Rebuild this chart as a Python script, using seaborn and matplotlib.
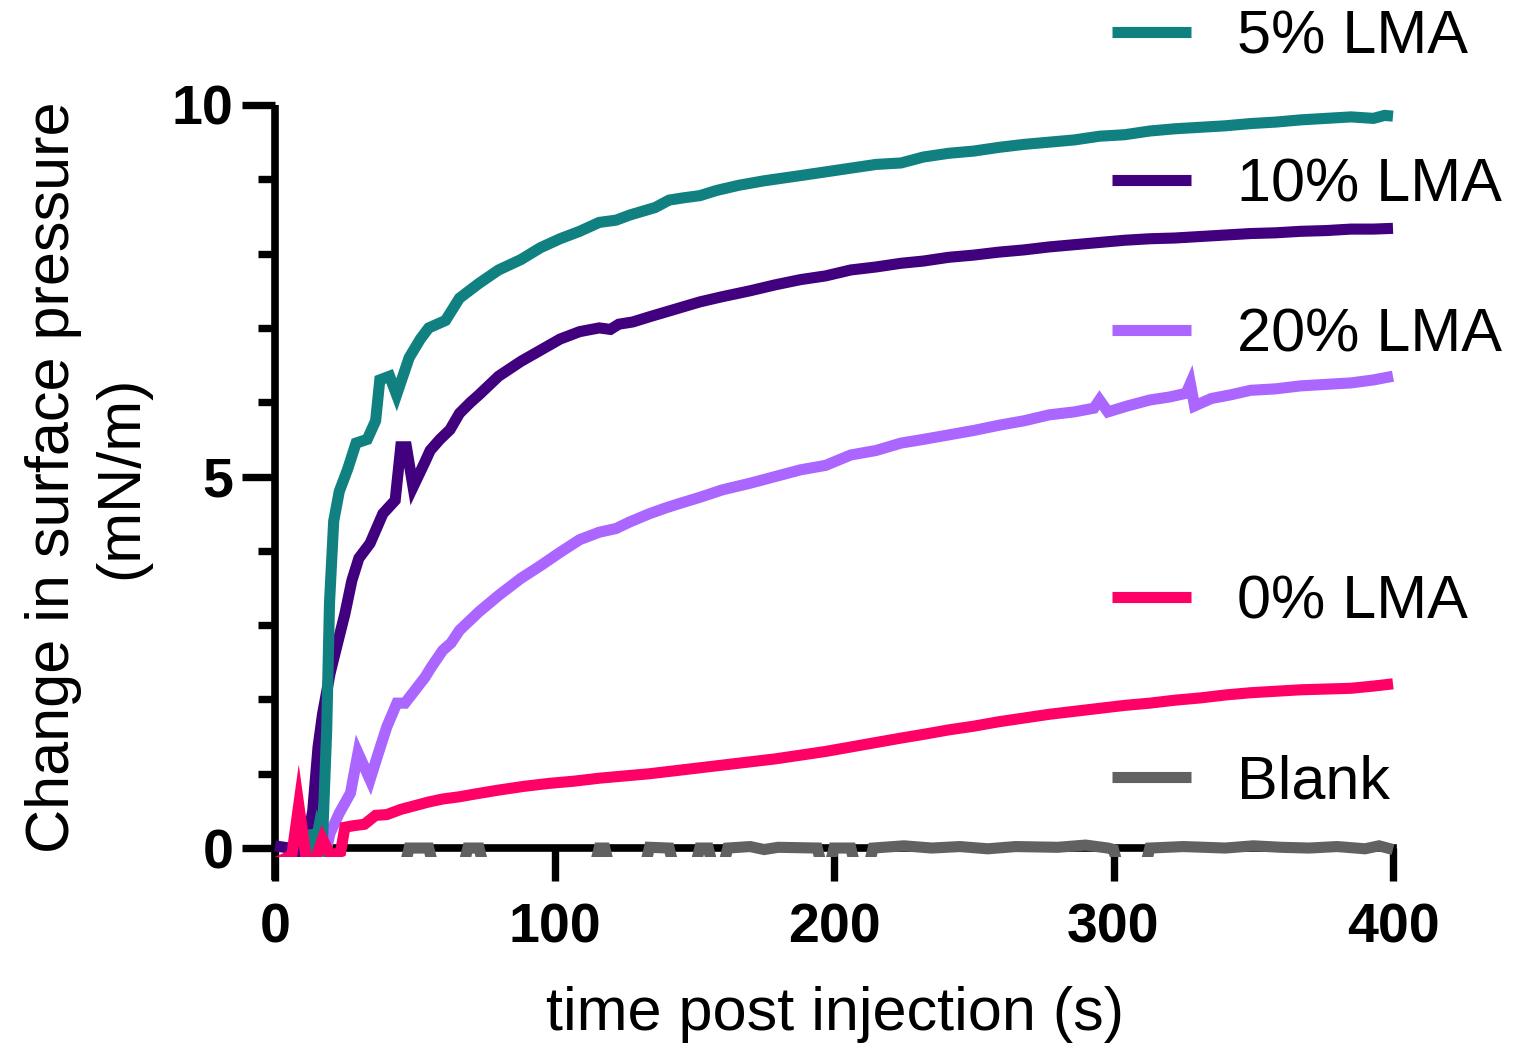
import matplotlib
matplotlib.use("Agg")
import matplotlib.pyplot as plt
import matplotlib.ticker as mticker
from matplotlib.patches import Rectangle
from matplotlib.lines import Line2D
import numpy as np
import pandas as pd
import seaborn as sns

# values (time in s, change in surface pressure in mN/m)
lma5_t = [12, 13.5, 15.5, 17, 18.5, 19.5, 21, 23, 26, 29, 33, 36, 37.5, 41, 43.5, 48, 52, 55, 61, 66,
          73, 80, 84, 88, 95, 102, 109, 116, 122, 127, 136, 141, 146, 152, 158, 166, 175, 188, 197, 206,
          215, 224, 232, 241, 250, 259, 268, 277, 286, 295, 304, 313, 322, 331, 340, 349, 358, 367, 376, 385,
          393, 397, 400]
lma5_y = [0.25, -0.15, 0.25, 0.1, 1.6, 3.3, 4.4, 4.8, 5.1, 5.45, 5.5, 5.75, 6.3, 6.35, 6.1, 6.6, 6.85, 7.0, 7.1, 7.4,
          7.6, 7.78, 7.85, 7.92, 8.08, 8.2, 8.3, 8.42, 8.45, 8.52, 8.62, 8.72, 8.75, 8.78, 8.85, 8.92, 8.98, 9.05, 9.1, 9.15,
          9.2, 9.22, 9.3, 9.35, 9.38, 9.43, 9.47, 9.5, 9.53, 9.58, 9.6, 9.65, 9.68, 9.7, 9.72, 9.75, 9.77, 9.8, 9.82, 9.84,
          9.82, 9.86, 9.85]

lma10_t = [0, 5, 8, 11, 12.5, 13.5, 15.4, 17, 19.7, 22, 25, 27.5, 30, 34, 38.6, 43, 45, 47, 49.4, 53.7,
           55.5, 59, 62.6, 66, 70, 73, 80, 88, 95, 102, 109, 116, 120, 123, 128, 134, 143, 152, 160, 170,
           179, 188, 197, 206, 215, 224, 232, 241, 250, 259, 268, 277, 286, 295, 304, 313, 322, 331, 340, 349,
           358, 367, 376, 385, 393, 400]
lma10_y = [0.03, 0.0, -0.2, 0.05, 0.3, 0.5, 1.36, 1.8, 2.35, 2.7, 3.15, 3.6, 3.9, 4.1, 4.5, 4.68, 5.4, 5.4, 4.86, 5.2,
           5.35, 5.5, 5.63, 5.85, 6.0, 6.1, 6.35, 6.55, 6.7, 6.85, 6.95, 7.0, 6.98, 7.05, 7.08, 7.15, 7.25, 7.35, 7.42, 7.5,
           7.58, 7.65, 7.7, 7.78, 7.82, 7.87, 7.9, 7.95, 7.98, 8.02, 8.05, 8.09, 8.12, 8.15, 8.18, 8.2, 8.21, 8.23, 8.25, 8.27,
           8.28, 8.3, 8.31, 8.33, 8.33, 8.34]

lma20_t = [18.5, 19.7, 23, 27, 29.7, 34, 37, 40, 43.6, 46.5, 50, 53.7, 56, 60, 63, 66, 73, 80, 88, 95,
           102, 109, 116, 122, 127, 134, 140, 145, 152, 160, 170, 179, 188, 197, 206, 215, 224, 232, 241, 250,
           259, 268, 277, 286, 293, 295, 298, 305, 313, 320, 326, 327.5, 329, 335, 342, 349, 358, 367, 376, 385,
           393, 400]
lma20_y = [0.0, 0.2, 0.47, 0.74, 1.28, 0.92, 1.28, 1.63, 1.95, 1.95, 2.12, 2.3, 2.44, 2.66, 2.76, 2.93, 3.18, 3.4, 3.63, 3.8,
           3.98, 4.15, 4.25, 4.3, 4.39, 4.5, 4.58, 4.64, 4.72, 4.82, 4.91, 5.0, 5.09, 5.15, 5.29, 5.35, 5.45, 5.5, 5.56, 5.62,
           5.69, 5.75, 5.83, 5.87, 5.92, 6.03, 5.87, 5.95, 6.03, 6.07, 6.12, 6.25, 5.95, 6.05, 6.1, 6.16, 6.18, 6.22, 6.24, 6.26,
           6.3, 6.35]

lma0_t = [0, 6, 8.5, 11, 13, 15, 17, 20, 23.5, 25, 28, 32, 36, 40, 45, 50, 55, 60, 66, 72,
          80, 89, 98, 107, 116, 125, 134, 143, 152, 161, 170, 179, 188, 197, 206, 215, 224, 232, 241, 250,
          259, 268, 277, 286, 295, 304, 313, 322, 331, 340, 349, 358, 367, 376, 385, 393, 400]
lma0_y = [-0.2, -0.1, 0.58, -0.1, -0.2, -0.1, 0.12, -0.1, -0.05, 0.28, 0.3, 0.32, 0.44, 0.45, 0.52, 0.57, 0.62, 0.66, 0.69, 0.73,
          0.78, 0.83, 0.87, 0.9, 0.94, 0.97, 1.0, 1.04, 1.08, 1.12, 1.16, 1.2, 1.25, 1.3, 1.36, 1.42, 1.48, 1.53, 1.59, 1.64,
          1.7, 1.75, 1.8, 1.84, 1.88, 1.92, 1.95, 1.99, 2.02, 2.06, 2.09, 2.11, 2.13, 2.14, 2.15, 2.18, 2.21]

blank_t = [0, 46, 48, 55, 57, 67, 69, 73, 75, 114, 116, 118, 120, 132, 134, 141, 143, 150, 152, 155,
           157, 160, 162, 170, 175, 180, 194, 196, 198, 200, 206, 208, 212, 214, 225, 235, 245, 255, 265, 280,
           290, 298, 300, 302, 311, 313, 325, 340, 350, 360, 370, 380, 390, 395, 400]
blank_y = [-0.3, -0.3, 0.0, 0.0, -0.3, -0.3, 0.0, 0.0, -0.3, -0.3, 0.0, 0.0, -0.3, -0.3, 0.01, 0.0, -0.3, -0.3, 0.0, 0.0,
           -0.3, -0.3, 0.0, 0.02, -0.02, 0.01, 0.0, -0.3, -0.3, 0.0, 0.0, -0.3, -0.3, 0.0, 0.03, 0.0, 0.02, -0.01, 0.02, 0.01,
           0.04, 0.0, -0.02, -0.3, -0.3, 0.0, 0.02, 0.0, 0.03, 0.01, 0.0, 0.02, -0.01, 0.03, -0.02]

series = ["5% LMA", "10% LMA", "20% LMA", "0% LMA", "Blank"]
colors = ["#108080", "#41007D", "#AA66FF", "#FF0066", "#616161"]
xs = [lma5_t, lma10_t, lma20_t, lma0_t, blank_t]
ys = [lma5_y, lma10_y, lma20_y, lma0_y, blank_y]
legend_y = [35, 183, 333, 600, 780]  # pixel rows of legend entries

sns.set_theme(style="ticks")
plt.rcParams["font.family"] = ["Liberation Sans", "DejaVu Sans"]
plt.rcParams["text.color"] = "black"
plt.rcParams["axes.labelcolor"] = "black"
plt.rcParams["xtick.color"] = "black"
plt.rcParams["ytick.color"] = "black"

fig = plt.figure(figsize=(15.21, 10.43), dpi=100)
ax = fig.add_axes([275 / 1521, 1 - 880 / 1043, 1118 / 1521, 775 / 1043])

frames = []
for name, t, y in zip(series, xs, ys):
    frames.append(pd.DataFrame({"time": t, "value": y, "series": name}))
df = pd.concat(frames, ignore_index=True)

# draw blank first, pink last
order = ["Blank", "20% LMA", "10% LMA", "5% LMA", "0% LMA"]
palette = dict(zip(series, colors))
for name in order:
    sns.lineplot(data=df[df.series == name], x="time", y="value", color=palette[name],
                 lw=8, estimator=None, sort=False, ax=ax, legend=False)

# GraphPad-style clipping just below the x axis; data drawn over the axis line
clip = Rectangle((-1, -0.12), 402, 11, transform=ax.transData)
for ln in ax.lines:
    ln.set_linewidth(8)
    ln.set_clip_path(clip)
    ln.set_zorder(4)
    ln.set_solid_joinstyle("miter")
    ln.set_solid_capstyle("butt")

ax.set_xlim(0, 400)
ax.set_ylim(-0.43, 10)
ax.spines["right"].set_visible(False)
ax.spines["top"].set_visible(False)
ax.spines["bottom"].set_position(("data", 0))
for s in ["left", "bottom"]:
    ax.spines[s].set_linewidth(5.5)
    ax.spines[s].set_color("black")
    ax.spines[s].set_zorder(3)
ax.spines["left"].set_capstyle("butt")

ax.set_xticks([0, 100, 200, 300, 400])
ax.set_yticks([0, 5, 10])
ax.yaxis.set_minor_locator(mticker.MultipleLocator(1))
ax.tick_params(axis="both", which="major", direction="out", length=24, width=5.3,
               labelsize=40, color="black", labelcolor="black", pad=6)
ax.tick_params(axis="x", which="major", pad=15)
ax.tick_params(axis="y", which="minor", direction="out", length=12, width=5.3, color="black")
for lab in ax.get_xticklabels() + ax.get_yticklabels():
    lab.set_fontweight("bold")

ax.set_xlabel("time post injection (s)", fontsize=44, color="black")
ax.set_ylabel("Change in surface pressure\n(mN/m)", fontsize=44, linespacing=1.25, color="black")
ax.xaxis.set_label_coords(0.501, -0.137)
ax.yaxis.set_label_coords(-0.112, 0.52)

# individual legend entries at their own heights
for name, yp in zip(series, legend_y):
    h = Line2D([], [], color=palette[name], linewidth=8, solid_capstyle="butt")
    leg = fig.legend([h], [name], loc="center left", bbox_to_anchor=(1112 / 1521, 1 - (yp + 3) / 1043),
                     frameon=False, fontsize=44, handlelength=1.3, handletextpad=0.75,
                     borderpad=0, borderaxespad=0, labelcolor="black")

fig.savefig("out.png", dpi=100)
